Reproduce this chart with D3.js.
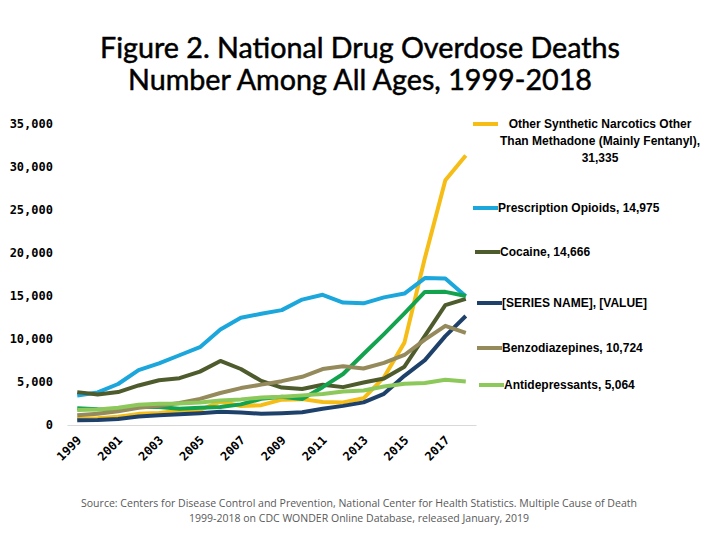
<!DOCTYPE html>
<html>
<head>
<meta charset="utf-8">
<script src="https://cdn.jsdelivr.net/npm/d3@7"></script>
<style>
  body { margin: 0; background: #fff; }
  svg text { font-family: "Liberation Sans Narrow", "Liberation Sans", sans-serif; }
</style>
</head>
<body>
<div id="app"></div>
<script>
// years on the category axis
const years = d3.range(1999, 2019);
const tickYears = [1999, 2001, 2003, 2005, 2007, 2009, 2011, 2013, 2015, 2017];
const yTicks = [0, 5000, 10000, 15000, 20000, 25000, 30000, 35000];

// deaths per year, 1999-2018
const synthetic = [730, 782, 957, 1295, 1400, 1664, 1742, 2707, 2213, 2306, 2946, 3007, 2666, 2628, 3105, 5544, 9580, 19413, 28466, 31335];
const prescription = [3442, 3785, 4770, 6392, 7164, 8112, 9044, 11094, 12477, 12932, 13355, 14583, 15140, 14240, 14145, 14838, 15281, 17087, 17029, 14975];
const cocaine = [3822, 3544, 3833, 4599, 5199, 5443, 6208, 7448, 6512, 5129, 4350, 4183, 4681, 4404, 4944, 5415, 6784, 10375, 13942, 14666];
const heroin = [1960, 1842, 1779, 2089, 2080, 1878, 2009, 2088, 2399, 3041, 3278, 3036, 4397, 5925, 8257, 10574, 12989, 15469, 15482, 14996];
const psychostim = [547, 578, 689, 976, 1131, 1252, 1379, 1543, 1454, 1304, 1369, 1479, 1887, 2226, 2630, 3627, 5716, 7542, 10333, 12676];
const benzo = [1135, 1298, 1594, 2006, 2248, 2564, 3040, 3723, 4293, 4693, 5098, 5604, 6506, 6820, 6570, 7216, 8142, 9923, 11537, 10724];
const antidep = [1749, 1803, 2017, 2349, 2457, 2505, 2627, 2859, 2979, 3188, 3288, 3445, 3593, 3889, 4013, 4479, 4800, 4889, 5269, 5064];

const seriesNames = ["Other Synthetic Narcotics Other Than Methadone (Mainly Fentanyl)", "Prescription Opioids", "Cocaine", "Heroin", "[SERIES NAME]", "Benzodiazepines", "Antidepressants"];
const seriesValues = [synthetic, prescription, cocaine, heroin, psychostim, benzo, antidep];
const colors = ["#F5BD16", "#1BA6DC", "#4E5B2C", "#13A34F", "#1E416C", "#948A5B", "#8DC85B"];

// data label text lines (heroin has none)
const labelLines = [
    ["Other Synthetic Narcotics Other", "Than Methadone (Mainly Fentanyl),", "31,335"],
    ["Prescription Opioids, 14,975"],
    ["Cocaine, 14,666"],
    null,
    ["[SERIES NAME], [VALUE]"],
    ["Benzodiazepines, 10,724"],
    ["Antidepressants, 5,064"]
];

const width = 720, height = 540;

let svg = d3.select("#app")
    .append("svg")
        .attr("width", width)
        .attr("height", height);

// title
let titleLines = [["Figure 2. National Drug Overdose Deaths", 58, 520], ["Number Among All Ages, 1999-2018", 90, 464]];
svg.selectAll("text.title")
    .data(titleLines)
    .enter().append("text")
        .attr("class", "title")
        .attr("x", 360)
        .attr("y", d => d[1])
        .attr("text-anchor", "middle")
        .attr("textLength", d => d[2])
        .attr("lengthAdjust", "spacingAndGlyphs")
        .style("font-family", "Lato, 'Open Sans', sans-serif")
        .style("font-size", "29px")
        .style("fill", "#000")
        .style("stroke", "#000")
        .style("stroke-width", 0.5)
        .text(d => d[0]);

let x = d3.scaleBand()
    .domain(years)
    .range([67, 476])
    .padding(0);

let y = d3.scaleLinear()
    .domain([0, 35000])
    .range([425, 124]);

// y axis labels only
let yAxis = svg.append("g")
    .attr("transform", "translate(53,0)")
    .call(d3.axisLeft(y).tickValues(yTicks).tickFormat(d3.format(",")).tickSize(0).tickPadding(0));
yAxis.select(".domain").remove();
yAxis.selectAll("text")
    .style("font-family", "'DejaVu Sans Mono', monospace")
    .style("font-weight", "bold")
    .style("font-size", "12px")
    .style("fill", "#000");

// x axis baseline
let xAxis = svg.append("g")
    .attr("transform", "translate(0,425)")
    .call(d3.axisBottom(x).tickValues(tickYears).tickSize(0).tickFormat(""));
xAxis.select(".domain")
    .attr("stroke", "#D9D9D9")
    .attr("stroke-width", 1.2);

// year labels, rotated -45 and ending under each category
svg.append("g").selectAll("g")
    .data(tickYears)
    .enter().append("g")
        .attr("transform", d => "translate(" + (x(d) + x.bandwidth() / 2 + 5) + ",441)")
    .append("text")
        .attr("text-anchor", "end")
        .attr("transform", "rotate(-45)")
        .style("font-family", "'DejaVu Sans Mono', monospace")
        .style("font-weight", "bold")
        .style("font-size", "12px")
        .style("fill", "#000")
        .text(d => d);

let line = d3.line()
    .x((d, i) => x(years[i]) + x.bandwidth() / 2)
    .y(d => y(d));

svg.append("g").selectAll("path")
    .data(seriesValues)
    .enter().append("path")
        .attr("d", d => line(d))
        .attr("fill", "none")
        .attr("stroke", (d, i) => colors[i])
        .attr("stroke-width", 4)
        .attr("stroke-linejoin", "round");

// data labels with legend keys, placed by hand like the original
let labelPos = [
    {kx: 473, ky: 124, tx: 600, center: true},
    {kx: 473, ky: 208},
    {kx: 475, ky: 252},
    null,
    {kx: 477, ky: 303},
    {kx: 477, ky: 348},
    {kx: 479, ky: 385}
];

let labels = svg.append("g");
labelLines.forEach((lines, i) => {
    if (!lines) return;
    let p = labelPos[i];
    labels.append("line")
        .attr("x1", p.kx).attr("x2", p.kx + 25)
        .attr("y1", p.ky).attr("y2", p.ky)
        .attr("stroke", colors[i])
        .attr("stroke-width", 4);
    let t = labels.append("text")
        .attr("x", p.center ? p.tx : p.kx + 25)
        .attr("y", p.ky)
        .attr("text-anchor", p.center ? "middle" : "start")
        .style("font-weight", "bold")
        .style("font-size", "12px")
        .style("fill", "#000");
    lines.forEach((s, j) => {
        t.append("tspan")
            .attr("x", p.center ? p.tx : p.kx + 25)
            .attr("dy", j == 0 ? "0.35em" : "1.4em")
            .text(s);
    });
});

// source note
let sourceLines = [
    ["Source: Centers for Disease Control and Prevention, National Center for Health Statistics. Multiple Cause of Death", 507, 556],
    ["1999-2018 on CDC WONDER Online Database, released January, 2019", 522, 340]
];
svg.selectAll("text.source")
    .data(sourceLines)
    .enter().append("text")
        .attr("class", "source")
        .attr("x", 359)
        .attr("y", d => d[1])
        .attr("text-anchor", "middle")
        .attr("textLength", d => d[2])
        .attr("lengthAdjust", "spacingAndGlyphs")
        .style("font-family", "'Open Sans', sans-serif")
        .style("font-size", "11px")
        .style("fill", "#595959")
        .text(d => d[0]);
</script>
</body>
</html>
